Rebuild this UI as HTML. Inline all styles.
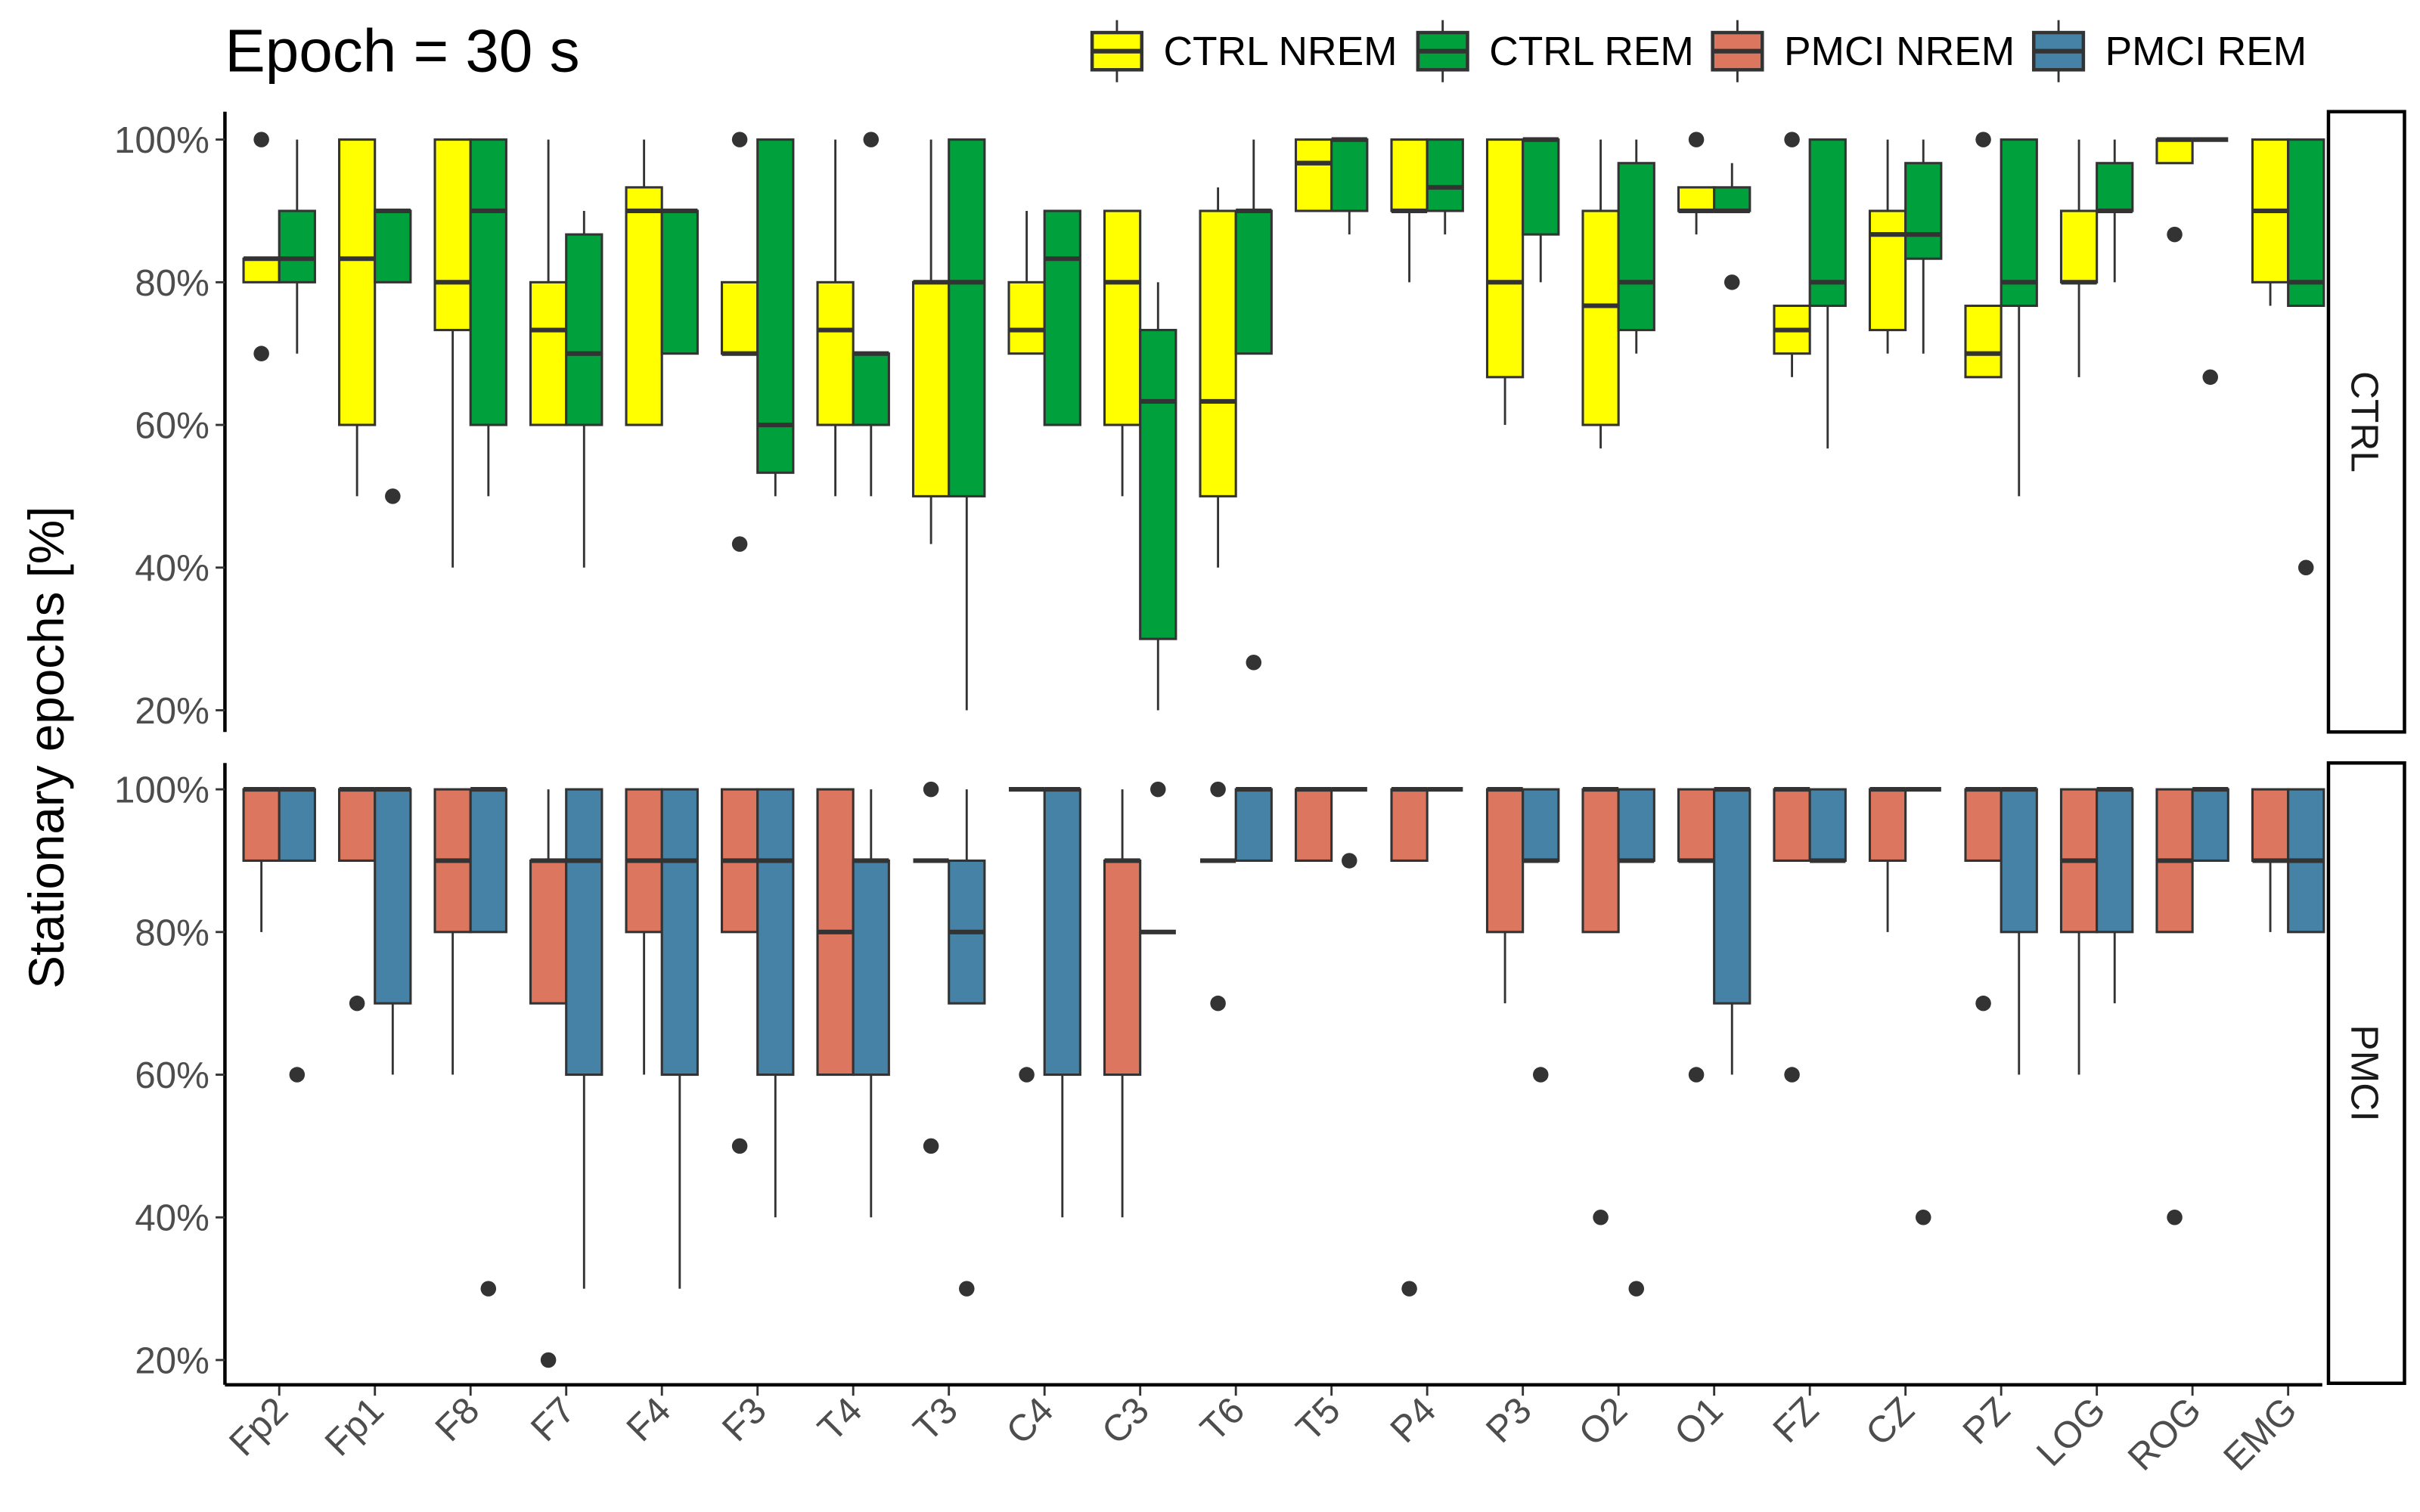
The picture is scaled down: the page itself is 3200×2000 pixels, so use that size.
<!DOCTYPE html>
<html><head><meta charset="utf-8"><style>
html,body{margin:0;padding:0;background:#fff}
svg{display:block}
text{font-family:"Liberation Sans",Arial,sans-serif}
</style></head><body>
<svg id="chart" width="3200" height="2000" viewBox="0 0 1560 975" preserveAspectRatio="none" xmlns="http://www.w3.org/2000/svg">
<rect width="1560" height="975" fill="#fff"/>
<text x="145" y="46" font-size="39" fill="#000">Epoch = 30 s</text>
<g id="legend"></g>
<g id="plot"></g>
<text transform="translate(41,482) rotate(-90)" text-anchor="middle" font-size="32" fill="#000">Stationary epochs [%]</text>
<rect x="1501" y="72" width="49" height="400" fill="#fff" stroke="#000" stroke-width="2.2"/>
<text transform="translate(1516,272) rotate(90)" text-anchor="middle" font-size="25" fill="#1a1a1a">CTRL</text>
<rect x="1501" y="492" width="49" height="400" fill="#fff" stroke="#000" stroke-width="2.2"/>
<text transform="translate(1516,692) rotate(90)" text-anchor="middle" font-size="25" fill="#1a1a1a">PMCI</text>
</svg>
<script>
const categories = ["Fp2","Fp1","F8","F7","F4","F3","T4","T3","C4","C3","T6","T5","P4","P3","O2","O1","FZ","CZ","PZ","LOG","ROG","EMG"];
const yTicks = [20,40,60,80,100];
// [lowerWhisker, q1, median, q3, upperWhisker]
const ctrlNrem = [[80,80,83.3,83.3,83.3],[50,60,83.3,100,100],[40,73.3,80,100,100],[60,60,73.3,80,100],[60,60,90,93.3,100],[70,70,70,80,80],[50,60,73.3,80,100],[43.3,50,80,80,100],[70,70,73.3,80,90],[50,60,80,90,90],[40,50,63.3,90,93.3],[90,90,96.7,100,100],[80,90,90,100,100],[60,66.7,80,100,100],[56.7,60,76.7,90,100],[86.7,90,90,93.3,93.3],[66.7,70,73.3,76.7,76.7],[70,73.3,86.7,90,100],[66.7,66.7,70,76.7,76.7],[66.7,80,80,90,100],[96.7,96.7,100,100,100],[76.7,80,90,100,100]];
const ctrlNremOut = [[100,70],[],[],[],[],[100,43.3],[],[],[],[],[],[],[],[],[],[100],[100],[],[100],[],[86.7],[]];
const ctrlRem = [[70,80,83.3,90,100],[80,80,90,90,90],[50,60,90,100,100],[40,60,70,86.7,90],[70,70,90,90,90],[50,53.3,60,100,100],[50,60,70,70,70],[20,50,80,100,100],[60,60,83.3,90,90],[20,30,63.3,73.3,80],[70,70,90,90,100],[86.7,90,100,100,100],[86.7,90,93.3,100,100],[80,86.7,100,100,100],[70,73.3,80,96.7,100],[90,90,90,93.3,96.7],[56.7,76.7,80,100,100],[70,83.3,86.7,96.7,100],[50,76.7,80,100,100],[80,90,90,96.7,100],[100,100,100,100,100],[76.7,76.7,80,100,100]];
const ctrlRemOut = [[],[50],[],[],[],[],[100],[],[],[],[26.7],[],[],[],[],[80],[],[],[],[],[66.7],[40]];
const pmciNrem = [[80,90,100,100,100],[90,90,100,100,100],[60,80,90,100,100],[70,70,90,90,100],[60,80,90,100,100],[80,80,90,100,100],[60,60,80,100,100],[90,90,90,90,90],[100,100,100,100,100],[40,60,90,90,100],[90,90,90,90,90],[90,90,100,100,100],[90,90,100,100,100],[70,80,100,100,100],[80,80,100,100,100],[90,90,90,100,100],[90,90,100,100,100],[80,90,100,100,100],[90,90,100,100,100],[60,80,90,100,100],[80,80,90,100,100],[80,90,90,100,100]];
const pmciNremOut = [[],[70],[],[20],[],[50],[],[100,50],[60],[],[100,70],[],[30],[],[40],[60],[60],[],[70],[],[40],[]];
const pmciRem = [[90,90,100,100,100],[60,70,100,100,100],[80,80,100,100,100],[30,60,90,100,100],[30,60,90,100,100],[40,60,90,100,100],[40,60,90,90,100],[70,70,80,90,100],[40,60,100,100,100],[80,80,80,80,80],[90,90,100,100,100],[100,100,100,100,100],[100,100,100,100,100],[90,90,90,100,100],[90,90,90,100,100],[60,70,100,100,100],[90,90,90,100,100],[100,100,100,100,100],[60,80,100,100,100],[70,80,100,100,100],[90,90,100,100,100],[80,80,90,100,100]];
const pmciRemOut = [[60],[],[30],[],[],[],[],[30],[],[100],[],[90],[],[60],[30],[],[],[40],[],[],[],[]];

const NS="http://www.w3.org/2000/svg";
const plot=document.getElementById('plot');
const xLeft=145, xRight=1497, x0=180, step=(1475-180)/21, bw=23;
function xScale(i){return x0+i*step;}
function yTop(v){return 90+(100-v)*4.6;}
function yBot(v){return 509+(100-v)*4.6;}
function mk(tag,attrs,parent){const e=document.createElementNS(NS,tag);for(const k in attrs)e.setAttribute(k,attrs[k]);(parent||plot).appendChild(e);return e;}

function drawSeries(data,outs,ys,side,color,name){
  data.forEach((d,i)=>{
    const cx=xScale(i)+side*bw/2;
    const g=mk('g',{});
    
    
    if(d[4]>d[3]) mk('line',{x1:cx,x2:cx,y1:ys(d[4]),y2:ys(d[3]),stroke:'#333','stroke-width':1.4},g);
    if(d[0]<d[1]) mk('line',{x1:cx,x2:cx,y1:ys(d[1]),y2:ys(d[0]),stroke:'#333','stroke-width':1.4},g);
    mk('rect',{x:cx-bw/2,y:ys(d[3]),width:bw,height:Math.max(0,ys(d[1])-ys(d[3])),fill:color,stroke:'#333','stroke-width':1.5},g);
    mk('line',{x1:cx-bw/2,x2:cx+bw/2,y1:ys(d[2]),y2:ys(d[2]),stroke:'#333','stroke-width':3},g);
    outs[i].forEach(o=>{
      const c=mk('circle',{cx:cx,cy:ys(o),r:5,fill:'#333'},g);
      
      
    });
  });
}
drawSeries(ctrlNrem,ctrlNremOut,yTop,-1,'#FFFF00','ctrl-nrem');
drawSeries(ctrlRem,ctrlRemOut,yTop,1,'#00A03C','ctrl-rem');
drawSeries(pmciNrem,pmciNremOut,yBot,-1,'#DC765E','pmci-nrem');
drawSeries(pmciRem,pmciRemOut,yBot,1,'#4682A5','pmci-rem');

// axes
[[yTop,72,472,'ctrl'],[yBot,492,893,'pmci']].forEach(([ys,t,b,nm])=>{
  const ax=mk('line',{x1:xLeft,x2:xLeft,y1:t,y2:b,stroke:'#000','stroke-width':2.2});
  
  
  yTicks.forEach(v=>{
    mk('line',{x1:xLeft-6,x2:xLeft,y1:ys(v),y2:ys(v),stroke:'#333','stroke-width':1.4});
    const tx=mk('text',{x:xLeft-10,y:ys(v)+8.5,'text-anchor':'end','font-size':24,fill:'#4d4d4d'});
    tx.textContent=v+'%';
    
    
  });
});
const xa=mk('line',{x1:xLeft,x2:xRight,y1:893,y2:893,stroke:'#000','stroke-width':2.2});


categories.forEach((c,i)=>{
  const x=xScale(i);
  mk('line',{x1:x,x2:x,y1:894,y2:900,stroke:'#333','stroke-width':1.4});
  const t=mk('text',{transform:`translate(${x+7},${911}) rotate(-45)`,'text-anchor':'end','font-size':24,fill:'#4d4d4d'});
  t.textContent=c;
  
  
});

// legend
const legend=document.getElementById('legend');
const legItems=[['CTRL NREM','#FFFF00',703],['CTRL REM','#00A03C',913],['PMCI NREM','#DC765E',1103],['PMCI REM','#4682A5',1310]];
legItems.forEach(([lab,col,x])=>{
  const g=mk('g',{},legend);
  
  
  const cx=x+17;
  mk('line',{x1:cx,x2:cx,y1:13,y2:53,stroke:'#333','stroke-width':1.4},g);
  mk('rect',{x:x+1,y:21,width:32,height:24,fill:col,stroke:'#333','stroke-width':2.2},g);
  mk('line',{x1:x+1,x2:x+33,y1:33,y2:33,stroke:'#333','stroke-width':3},g);
  const t=mk('text',{x:x+47,y:42,'font-size':26,fill:'#000'},g);
  t.textContent=lab;
});
</script>
</body></html>
